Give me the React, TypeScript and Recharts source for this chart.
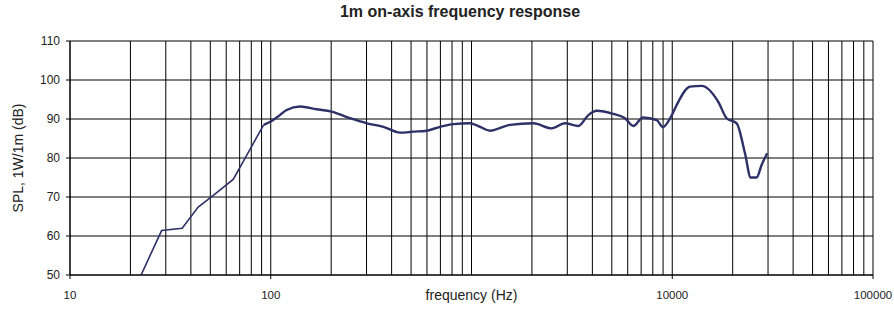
import { LineChart, Line, XAxis, YAxis, CartesianGrid } from 'recharts';

const freqHz = [
  22.6, 28.6, 36.2, 43.5, 50.8, 65, 92.2, 101, 111, 120, 140, 169, 201, 248, 301, 364,
  441, 513, 598, 697, 812, 984, 1082, 1236, 1556, 2034, 2508, 2922, 3405, 3820, 4206,
  5086, 5818, 6401, 7132, 8375, 8976, 9955, 10715, 12248, 14021, 16955, 18660, 20940,
  23030, 24590, 26300, 27870, 29720
];
const splDb = [
  50, 61.4, 62.0, 67.4, 70.1, 74.5, 88.5, 89.5, 91.0, 92.3, 93.2, 92.5, 91.9, 90.2, 88.9, 88.0,
  86.5, 86.75, 87.0, 88.0, 88.7, 88.9, 88.2, 87.0, 88.5, 88.9, 87.6, 88.9, 88.2, 91.0, 92.1,
  91.3, 90.2, 88.2, 90.4, 89.7, 87.9, 91.0, 94.4, 98.3, 98.5, 94.4, 90.2, 88.9,
  81.2, 75.0, 75.0, 78.2, 81.2
];
// the low end is drawn with straight segments, the rest is a smooth trace
const splitHz = 92.2;

const decades = [10, 100, 1000, 10000];
const multipliers = [1, 2, 3, 4, 5, 6, 7, 8, 9];
const xTicks = [...decades.flatMap((d) => multipliers.map((m) => d * m)), 100000];
const xLabelTicks = [10, 100, 10000, 100000];
const yTicks = [50, 60, 70, 80, 90, 100, 110];

const data = freqHz.map((f, i) => ({
  freq: f,
  low: f <= splitHz ? splDb[i] : null,
  high: f >= splitHz ? splDb[i] : null
}));

const FONT = "'Liberation Sans', Arial, sans-serif";
const LINE_COLOR = '#2E3168';

function FreqTick(props: any) {
  const { x, y, payload } = props;
  if (!xLabelTicks.includes(payload.value)) return null;
  return (
    <g>
      <line x1={x} y1={y} x2={x} y2={y + 4} stroke="#000" />
      <text x={x} y={y + 24} textAnchor="middle" fontSize={11.5} fontFamily={FONT} fill="#222">
        {payload.value}
      </text>
    </g>
  );
}

function SplLabel(props: any) {
  const vb = props.viewBox || {};
  const cx = 18;
  const cy = (vb.y || 0) + (vb.height || 0) / 2;
  return (
    <text
      x={cx}
      y={cy}
      transform={`rotate(-90, ${cx}, ${cy})`}
      textAnchor="middle"
      dominantBaseline="central"
      fontSize={14}
      fontFamily={FONT}
      fill="#222"
    >
      SPL, 1W/1m (dB)
    </text>
  );
}

export default function App() {
  return (
    <div style={{ position: 'absolute', left: 0, top: 0, width: 894, height: 310, background: '#fff' }}>
      <div
        style={{
          position: 'absolute',
          left: 260,
          top: 4,
          width: 400,
          textAlign: 'center',
          fontFamily: FONT,
          fontWeight: 'bold',
          fontSize: 16,
          lineHeight: '16px',
          color: '#222'
        }}
      >
        1m on-axis frequency response
      </div>
      <LineChart width={894} height={310} data={data} margin={{ top: 41, right: 21, bottom: 0, left: 0 }}>
        <CartesianGrid stroke="#000" strokeWidth={1} />
        <XAxis
          dataKey="freq"
          type="number"
          scale="log"
          domain={[10, 100000]}
          ticks={xTicks}
          interval={0}
          allowDataOverflow
          height={35}
          stroke="#000"
          tickLine={false}
          tickSize={0}
          tickMargin={0}
          tick={<FreqTick />}
          label={{
            value: 'frequency (Hz)',
            position: 'insideBottom',
            offset: 10,
            fontSize: 14,
            fontFamily: FONT,
            fill: '#222'
          }}
        />
        <YAxis
          type="number"
          domain={[50, 110]}
          ticks={yTicks}
          interval={0}
          allowDataOverflow
          width={70}
          stroke="#000"
          tickSize={4}
          tickMargin={6}
          tick={{ fontSize: 12, fontFamily: FONT, fill: '#222' }}
          label={<SplLabel />}
        />
        <Line
          dataKey="low"
          type="linear"
          stroke={LINE_COLOR}
          strokeWidth={1.6}
          dot={false}
          connectNulls={false}
          isAnimationActive={false}
        />
        <Line
          dataKey="high"
          type="monotoneX"
          stroke={LINE_COLOR}
          strokeWidth={2.4}
          dot={false}
          connectNulls={false}
          isAnimationActive={false}
        />
      </LineChart>
    </div>
  );
}
